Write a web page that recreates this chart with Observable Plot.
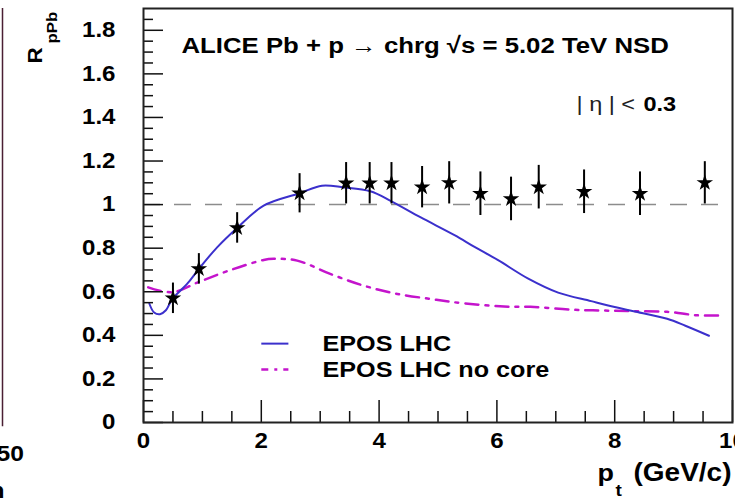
<!DOCTYPE html>
<html><head><meta charset="utf-8">
<script src="https://cdn.jsdelivr.net/npm/d3@7"></script>
<script src="https://cdn.jsdelivr.net/npm/@observablehq/plot@0.6"></script>
<style>
html,body{margin:0;padding:0;background:#fff;overflow:hidden;}
#chart{width:735px;height:502px;}
</style></head><body><div id="chart"></div>
<script>
// ALICE data points (pt, R_pPb, error)
const dataPt  = [0.50, 0.94, 1.59, 2.65, 3.44, 3.84, 4.21, 4.73, 5.19, 5.72, 6.24, 6.71, 7.48, 8.43, 9.53];
const dataR   = [0.570, 0.705, 0.893, 1.052, 1.098, 1.098, 1.098, 1.080, 1.100, 1.050, 1.026, 1.080, 1.059, 1.050, 1.100];
const dataErr = [0.070, 0.070, 0.070, 0.090, 0.095, 0.095, 0.095, 0.095, 0.097, 0.100, 0.100, 0.100, 0.100, 0.100, 0.097];

// EPOS LHC curve
const eposPt = [0.10, 0.18, 0.28, 0.38, 0.49, 0.74, 0.94, 1.25, 1.59, 2.04, 2.65, 3.03, 3.40, 3.85, 4.21, 4.70, 5.28, 5.62, 6.02, 6.54, 7.04, 7.60, 8.00, 8.32, 8.89, 9.20, 9.60];
const eposR  = [0.545, 0.505, 0.497, 0.515, 0.567, 0.636, 0.705, 0.804, 0.893, 0.995, 1.052, 1.087, 1.079, 1.061, 1.015, 0.942, 0.860, 0.806, 0.745, 0.659, 0.596, 0.557, 0.530, 0.511, 0.476, 0.444, 0.398];

// EPOS LHC no core curve
const noCorePt = [0.08, 0.49, 0.94, 1.48, 2.04, 2.21, 2.61, 3.17, 3.74, 4.31, 4.87, 5.27, 6.12, 6.57, 7.25, 7.79, 8.32, 8.89, 9.40, 9.85];
const noCoreR  = [0.620, 0.598, 0.645, 0.700, 0.746, 0.751, 0.743, 0.682, 0.628, 0.590, 0.567, 0.552, 0.532, 0.531, 0.518, 0.514, 0.511, 0.508, 0.492, 0.491];

// Axis ticks
const yMajor = [0, 0.2, 0.4, 0.6, 0.8, 1, 1.2, 1.4, 1.6, 1.8];
const yMinor = [0.05,0.1,0.15,0.25,0.3,0.35,0.45,0.5,0.55,0.65,0.7,0.75,0.85,0.9,0.95,1.05,1.1,1.15,1.25,1.3,1.35,1.45,1.5,1.55,1.65,1.7,1.75,1.85];
const xMajor = [0, 2, 4, 6, 8, 10];
const xMinor = [0.5,1,1.5,2.5,3,3.5,4.5,5,5.5,6.5,7,7.5,8.5,9,9.5];

const titleText = "ALICE Pb + p \u2192 chrg \u221As = 5.02 TeV NSD";
const etaText = "| \u03b7 | <";
const etaValue = "0.3";
const legendLabels = ["EPOS LHC", "EPOS LHC no core"];

const points = dataPt.map((pt, i) => ({pt, r: dataR[i], e: dataErr[i]}));
const epos = eposPt.map((x, i) => ({x, y: eposR[i]}));
const noCore = noCorePt.map((x, i) => ({x, y: noCoreR[i]}));

const BLUE = "#3b30cc", MAG = "#c414cc";
const FONT = "'Liberation Sans', Arial, Helvetica, sans-serif";
const fmt = d => String(+d.toFixed(1));

const svg = Plot.plot({
  width: 735, height: 502,
  marginLeft: 143, marginTop: 8, marginRight: 3, marginBottom: 80,
  x: {domain: [0, 10], label: null},
  y: {domain: [0, 1.9], label: null},
  style: {fontFamily: FONT, background: "white", color: "black"},
  marks: [
    // fragment of neighbouring panel
    Plot.ruleX([0], {x: d => d, y1: () => -0.02, y2: () => 1.9, dx: -141, stroke: "#4a1f33", strokeWidth: 1.5}),
    Plot.text(["50"], {text: d => d, frameAnchor: "bottom-left", dx: -147, dy: 31, textAnchor: "start", lineAnchor: "middle", fontSize: 22, fontWeight: "bold"}),
    Plot.text(["n"], {text: d => d, frameAnchor: "bottom-left", dx: -154, dy: 68, textAnchor: "start", lineAnchor: "middle", fontSize: 22, fontWeight: "bold"}),
    // reference line at 1
    Plot.ruleY([1], {y: d => d, stroke: "#8c8c8c", strokeWidth: 1.5, strokeDasharray: "17,14"}),
    // model curves
    Plot.line(noCore, {x: "x", y: "y", stroke: MAG, strokeWidth: 2.5, strokeDasharray: "13,7,3,7", curve: "catmull-rom"}),
    Plot.line(epos, {x: "x", y: "y", stroke: BLUE, strokeWidth: 2, curve: "catmull-rom"}),
    // data
    Plot.ruleX(points, {x: "pt", y1: d => d.r - d.e, y2: d => d.r + d.e, stroke: "black", strokeWidth: 2}),
    Plot.dot(points, {x: "pt", y: "r", symbol: "star", r: 5.2, fill: "black", stroke: "none"}),
    // ticks (inward)
    Plot.axisY({ticks: yMajor, tickSize: -20, tickFormat: () => "", label: null, stroke: "#111", strokeWidth: 1.5}),
    Plot.axisY({ticks: yMinor, tickSize: -10, tickFormat: () => "", label: null, stroke: "#111", strokeWidth: 1.5}),
    Plot.axisX({ticks: xMajor, tickSize: -22, tickFormat: () => "", label: null, stroke: "#111", strokeWidth: 1.5}),
    Plot.axisX({ticks: xMinor, tickSize: -11, tickFormat: () => "", label: null, stroke: "#111", strokeWidth: 1.5}),
    // tick labels
    Plot.axisY({ticks: yMajor, tickSize: 0, tickPadding: 28, tickFormat: fmt, label: null, fontSize: 21.5, fontWeight: "bold", fill: "black"}),
    Plot.axisX({ticks: xMajor, tickSize: 0, tickPadding: 10, tickFormat: d => String(d), label: null, fontSize: 21.5, fontWeight: "bold", fill: "black"}),
    Plot.frame({stroke: "#222", strokeWidth: 2}),
    // axis titles
    Plot.text(["R"], {text: d => d, frameAnchor: "top-left", dx: -102, dy: 55, rotate: -90, textAnchor: "start", lineAnchor: "bottom", fontSize: 20, fontWeight: "bold"}),
    Plot.text(["pPb"], {text: d => d, frameAnchor: "top-left", dx: -87, dy: 35, rotate: -90, textAnchor: "start", lineAnchor: "bottom", fontSize: 15, fontWeight: "bold"}),
    Plot.text(["(GeV/c)"], {text: d => d, frameAnchor: "bottom-right", dx: -1, dy: 58, textAnchor: "end", lineAnchor: "bottom", fontSize: 25, fontWeight: "bold"}),
    Plot.text(["p"], {text: d => d, frameAnchor: "bottom-right", dx: -135, dy: 58, textAnchor: "start", lineAnchor: "bottom", fontSize: 24, fontWeight: "bold"}),
    Plot.text(["t"], {text: d => d, frameAnchor: "bottom-right", dx: -117, dy: 73, textAnchor: "start", lineAnchor: "bottom", fontSize: 17, fontWeight: "bold"}),
    // annotations
    Plot.text([titleText], {text: d => d, frameAnchor: "top-left", dx: 38, dy: 37, textAnchor: "start", lineAnchor: "middle", fontSize: 23, fontWeight: "bold"}),
    Plot.text([etaText], {text: d => d, frameAnchor: "top-right", dx: -156, dy: 95.5, textAnchor: "start", lineAnchor: "middle", fontSize: 21, fill: "#222"}),
    Plot.text([etaValue], {text: d => d, frameAnchor: "top-right", dx: -89, dy: 95.5, textAnchor: "start", lineAnchor: "middle", fontSize: 21, fontWeight: "bold"}),
    // legend
    Plot.link([0], {x1: () => 2.0, x2: () => 2.46, y1: () => 0.362, y2: () => 0.362, stroke: BLUE, strokeWidth: 2}),
    Plot.link([0], {x1: () => 2.0, x2: () => 2.46, y1: () => 0.243, y2: () => 0.243, stroke: MAG, strokeWidth: 2.5, strokeDasharray: "7,6,3,6"}),
    Plot.text([legendLabels[0]], {text: d => d, frameAnchor: "top-left", dx: 179, dy: 335, textAnchor: "start", lineAnchor: "middle", fontSize: 22.5, fontWeight: "bold"}),
    Plot.text([legendLabels[1]], {text: d => d, frameAnchor: "top-left", dx: 179, dy: 361, textAnchor: "start", lineAnchor: "middle", fontSize: 22.5, fontWeight: "bold"})
  ]
});

// widen glyphs horizontally (reference text is wide-set)
const SX = 1.12;
svg.querySelectorAll("text").forEach(t => {
  let tr = t.getAttribute("transform") || "";
  const x = t.getAttribute("x");
  if (x !== null && !isNaN(+x)) { tr += ` translate(${x},0)`; t.removeAttribute("x"); }
  t.setAttribute("transform", tr + ` scale(${SX},1)`);
});

document.getElementById("chart").appendChild(svg);
</script>
</body></html>
